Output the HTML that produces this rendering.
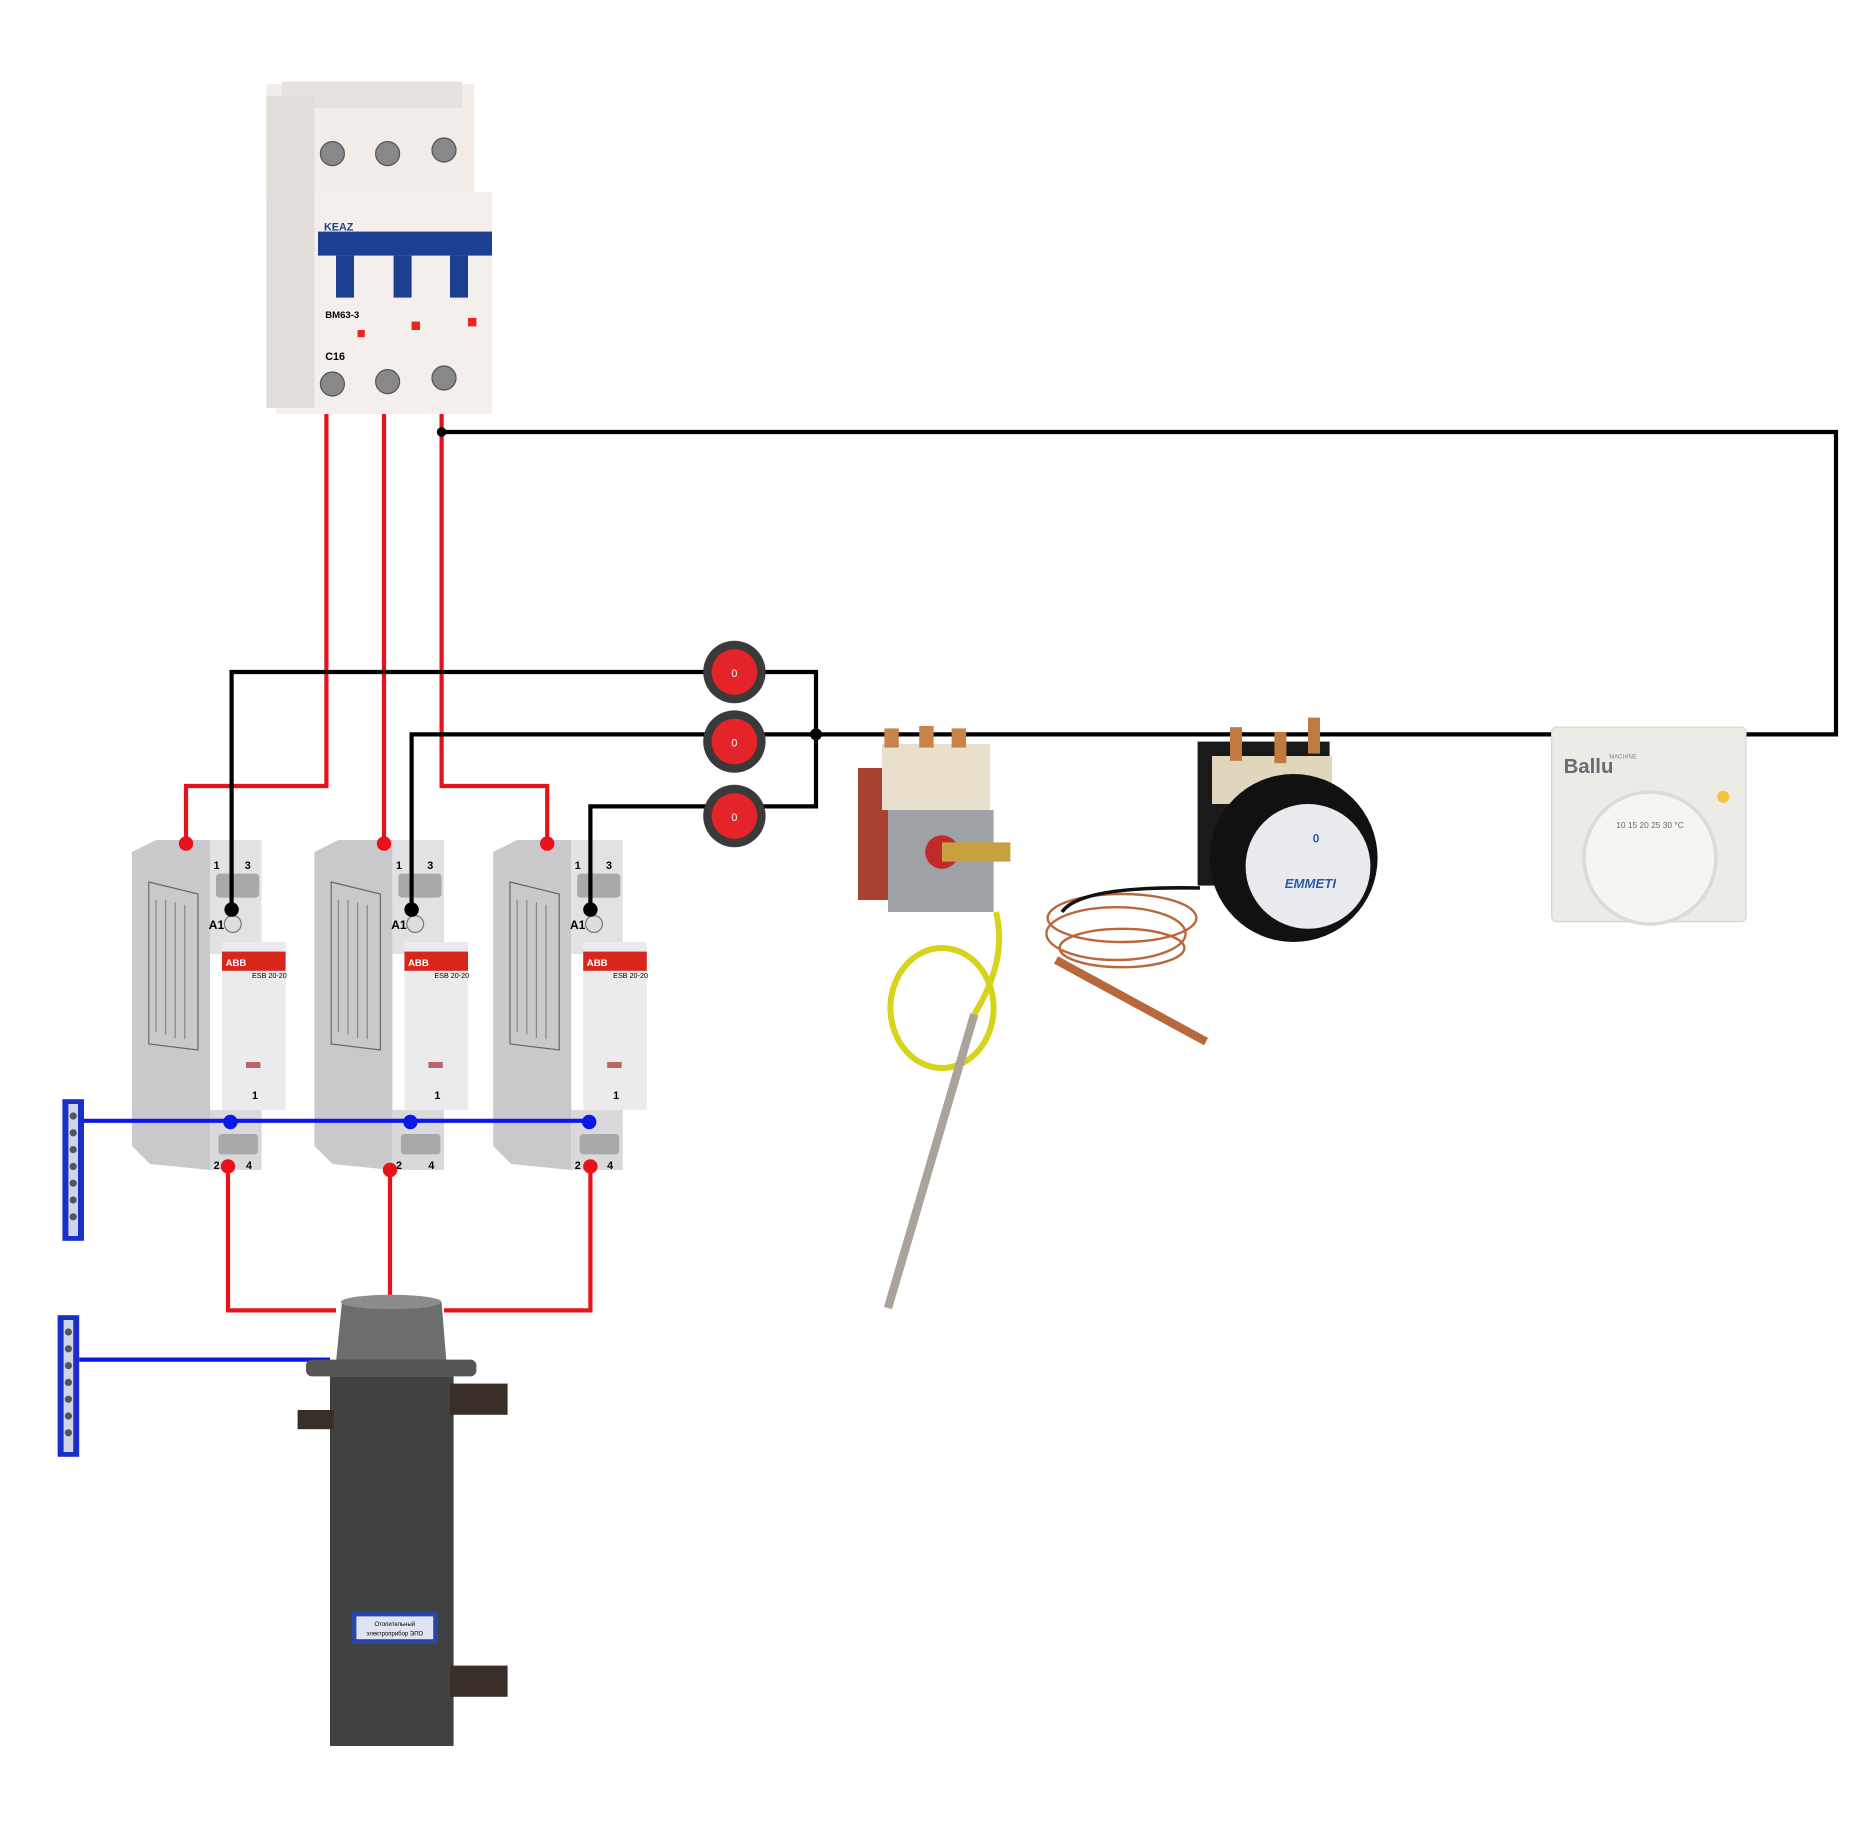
<!DOCTYPE html>
<html><head><meta charset="utf-8"><style>html,body{margin:0;padding:0;background:#fff}svg{display:block}</style></head><body>
<svg width="1872" height="1844" viewBox="0 0 1560 1536.67" xmlns="http://www.w3.org/2000/svg" font-family="Liberation Sans, sans-serif">
<defs>
<g id="cont">
  <path d="M0 10 L20 0 L65 0 L65 275 L15 270 L0 255 Z" fill="#c9c9cb"/>
  <rect x="65" y="0" width="43" height="95" fill="#e2e2e4"/>
  <rect x="70" y="28" width="36" height="20" rx="3" fill="#a9a9ab"/>
  <text x="68" y="24" font-size="9" font-weight="bold">1</text><text x="94" y="24" font-size="9" font-weight="bold">3</text>
  <text x="64" y="74" font-size="10" font-weight="bold">A1</text>
  <circle cx="84" cy="70" r="7" fill="#ddd" stroke="#777"/>
  <rect x="75" y="85" width="53" height="140" fill="#ebebed"/>
  <rect x="75" y="93" width="53" height="16" fill="#d8261c"/>
  <text x="78" y="105" font-size="8" fill="#fff" font-weight="bold">ABB</text>
  <text x="100" y="115" font-size="6">ESB 20-20</text>
  <rect x="95" y="185" width="12" height="5" fill="#b66"/>
  <text x="100" y="216" font-size="9" font-weight="bold">1</text>
  <path d="M14 35 L55 45 L55 175 L14 170 Z" fill="none" stroke="#666" stroke-width="1"/>
  <g stroke="#888" stroke-width="1"><line x1="20" y1="50" x2="20" y2="160"/><line x1="28" y1="50" x2="28" y2="162"/><line x1="36" y1="52" x2="36" y2="165"/><line x1="44" y1="54" x2="44" y2="166"/></g>
  <rect x="65" y="225" width="43" height="50" fill="#d9d9db"/>
  <rect x="72" y="245" width="33" height="17" rx="3" fill="#a9a9ab"/>
  <text x="68" y="274" font-size="9" font-weight="bold">2</text><text x="95" y="274" font-size="9" font-weight="bold">4</text>
</g>
<g id="sw"><circle r="26" fill="#3a3a3a"/><circle r="19" fill="#e5242a"/><text y="4" font-size="9" fill="#fff" text-anchor="middle">0</text></g>
<g id="bus"><rect width="18" height="118" fill="#1a2fc8"/><rect x="5" y="4" width="8" height="110" fill="#d0d4e8"/>
<g fill="#555"><circle cx="9" cy="14" r="3"/><circle cx="9" cy="28" r="3"/><circle cx="9" cy="42" r="3"/><circle cx="9" cy="56" r="3"/><circle cx="9" cy="70" r="3"/><circle cx="9" cy="84" r="3"/><circle cx="9" cy="98" r="3"/></g></g>
</defs>

<!-- breaker -->
<rect x="222" y="70" width="173" height="92" fill="#f1ece8"/>
<rect x="235" y="68" width="150" height="22" fill="#e6e1dc"/>
<rect x="230" y="160" width="180" height="185" fill="#f4efec"/>
<rect x="222" y="80" width="40" height="260" fill="#e2ddd8"/>
<g fill="#888" stroke="#555"><circle cx="277" cy="128" r="10"/><circle cx="323" cy="128" r="10"/><circle cx="370" cy="125" r="10"/><circle cx="277" cy="320" r="10"/><circle cx="323" cy="318" r="10"/><circle cx="370" cy="315" r="10"/></g>
<rect x="265" y="193" width="145" height="20" fill="#1d3f92"/>
<g fill="#1d3f92"><rect x="280" y="213" width="15" height="35"/><rect x="328" y="213" width="15" height="35"/><rect x="375" y="213" width="15" height="35"/></g>
<text x="270" y="192" font-size="9" font-weight="bold" fill="#1d3f92">KEAZ</text>
<text x="270" y="202" font-size="7" fill="#1d3f92">Optima</text>
<text x="271" y="265" font-size="8" font-weight="bold">BM63-3</text>
<text x="271" y="300" font-size="9" font-weight="bold">C16</text>
<rect x="298" y="275" width="6" height="6" fill="#e22"/><rect x="343" y="268" width="7" height="7" fill="#e22"/><rect x="390" y="265" width="7" height="7" fill="#e22"/>

<!-- red wires -->
<g stroke="#e8121a" stroke-width="3.5" fill="none">
<polyline points="272,345 272,655 155,655 155,703"/>
<polyline points="320,345 320,703"/>
<polyline points="368,345 368,655 456,655 456,703"/>
<polyline points="190,972 190,1092 280,1092"/>
<polyline points="325,972 325,1082"/>
<polyline points="492,972 492,1092 370,1092"/>
</g>

<!-- contactors -->
<use href="#cont" x="110" y="700"/>
<use href="#cont" x="262" y="700"/>
<use href="#cont" x="411" y="700"/>

<!-- black wires -->
<g stroke="#000" stroke-width="3.5" fill="none">
<polyline points="368,360 1530,360 1530,612 1455,612"/>
<polyline points="193,758 193,560 680,560 680,672 492,672 492,758"/>
<polyline points="343,758 343,612 1295,612"/>
</g>
<g fill="#e8121a"><circle cx="155" cy="703" r="6"/><circle cx="320" cy="703" r="6"/><circle cx="456" cy="703" r="6"/><circle cx="190" cy="972" r="6"/><circle cx="325" cy="975" r="6"/><circle cx="492" cy="972" r="6"/></g>
<g fill="#000"><circle cx="193" cy="758" r="6"/><circle cx="343" cy="758" r="6"/><circle cx="492" cy="758" r="6"/><circle cx="368" cy="360" r="4"/><circle cx="680" cy="612" r="5"/></g>
<use href="#sw" x="612" y="560"/><use href="#sw" x="612" y="618"/><use href="#sw" x="612" y="680"/>

<!-- blue -->
<g stroke="#0a18e8" stroke-width="3.5"><line x1="68" y1="934" x2="492" y2="934"/><line x1="66" y1="1133" x2="275" y2="1133"/></g>
<g fill="#0a18e8"><circle cx="192" cy="935" r="6"/><circle cx="342" cy="935" r="6"/><circle cx="491" cy="935" r="6"/></g>
<use href="#bus" x="52" y="916"/><use href="#bus" x="48" y="1096"/>

<!-- heater -->
<path d="M285 1085 Q326 1075 368 1085 L372 1135 L280 1135 Z" fill="#6b6e6c"/>
<ellipse cx="326" cy="1085" rx="42" ry="6" fill="#8a8d8b"/>
<rect x="255" y="1133" width="142" height="14" rx="5" fill="#555"/>
<rect x="275" y="1147" width="103" height="308" fill="#3f4240"/>
<rect x="375" y="1153" width="48" height="26" fill="#3a2e28"/><rect x="375" y="1388" width="48" height="26" fill="#3a2e28"/>
<rect x="248" y="1175" width="30" height="16" fill="#3a2e28"/>
<rect x="293" y="1343" width="72" height="27" fill="#2a46a8"/><rect x="297" y="1347" width="64" height="19" fill="#dfe4f0"/>
<text x="329" y="1355" font-size="5" text-anchor="middle">Отопительный</text><text x="329" y="1363" font-size="5" text-anchor="middle">электроприбор ЭПО</text>

<!-- thermostat 1 -->
<rect x="715" y="640" width="40" height="110" fill="#a8412e"/>
<rect x="735" y="620" width="90" height="55" fill="#e8e0cc"/>
<g fill="#c8854a"><rect x="737" y="607" width="12" height="16"/><rect x="766" y="605" width="12" height="18"/><rect x="793" y="607" width="12" height="16"/></g>
<rect x="740" y="675" width="88" height="85" fill="#9ea2a6"/>
<circle cx="785" cy="710" r="14" fill="#c02a28"/>
<rect x="785" y="702" width="57" height="16" fill="#c8a040"/>
<ellipse cx="785" cy="840" rx="43" ry="50" fill="none" stroke="#d7d21a" stroke-width="5"/>
<path d="M812 845 L740 1090" stroke="#a9a39a" stroke-width="7"/>
<path d="M830 760 Q840 800 812 845" stroke="#d7d21a" stroke-width="5" fill="none"/>

<!-- EMMETI -->
<rect x="998" y="618" width="110" height="120" fill="#1a1a1a"/>
<rect x="1010" y="630" width="100" height="40" fill="#e0d6bc"/>
<g fill="#c07a40"><rect x="1025" y="606" width="10" height="28"/><rect x="1062" y="610" width="10" height="26"/><rect x="1090" y="598" width="10" height="30"/></g>
<circle cx="1078" cy="715" r="70" fill="#111"/>
<circle cx="1090" cy="722" r="52" fill="#e8eaee"/>
<text x="1092" y="740" font-size="11" font-weight="bold" fill="#2c5aa8" text-anchor="middle" font-style="italic">EMMETI</text>
<text x="1094" y="702" font-size="10" fill="#2c5aa8" font-weight="bold">0</text>
<g fill="none" stroke="#b8683c" stroke-width="2"><ellipse cx="935" cy="765" rx="62" ry="20"/><ellipse cx="930" cy="778" rx="58" ry="22"/><ellipse cx="935" cy="790" rx="52" ry="16"/></g>
<path d="M880 800 L1005 868" stroke="#b8683c" stroke-width="7"/>
<path d="M885 760 Q900 738 1000 740" stroke="#111" stroke-width="3" fill="none"/>

<!-- Ballu -->
<rect x="1293" y="606" width="162" height="162" rx="4" fill="#ecebe6" stroke="#d6d5cf"/>
<circle cx="1375" cy="715" r="55" fill="#f5f5f1" stroke="#dcdbd5" stroke-width="3"/>
<text x="1303" y="644" font-size="17" font-weight="bold" fill="#6a6a70">Ballu</text>
<text x="1341" y="632" font-size="5" fill="#888">MACHINE</text>
<circle cx="1436" cy="664" r="5" fill="#f3c33a"/>
<text x="1375" y="690" font-size="7" fill="#666" text-anchor="middle">10 15 20 25 30 °C</text>
</svg>
</body></html>
